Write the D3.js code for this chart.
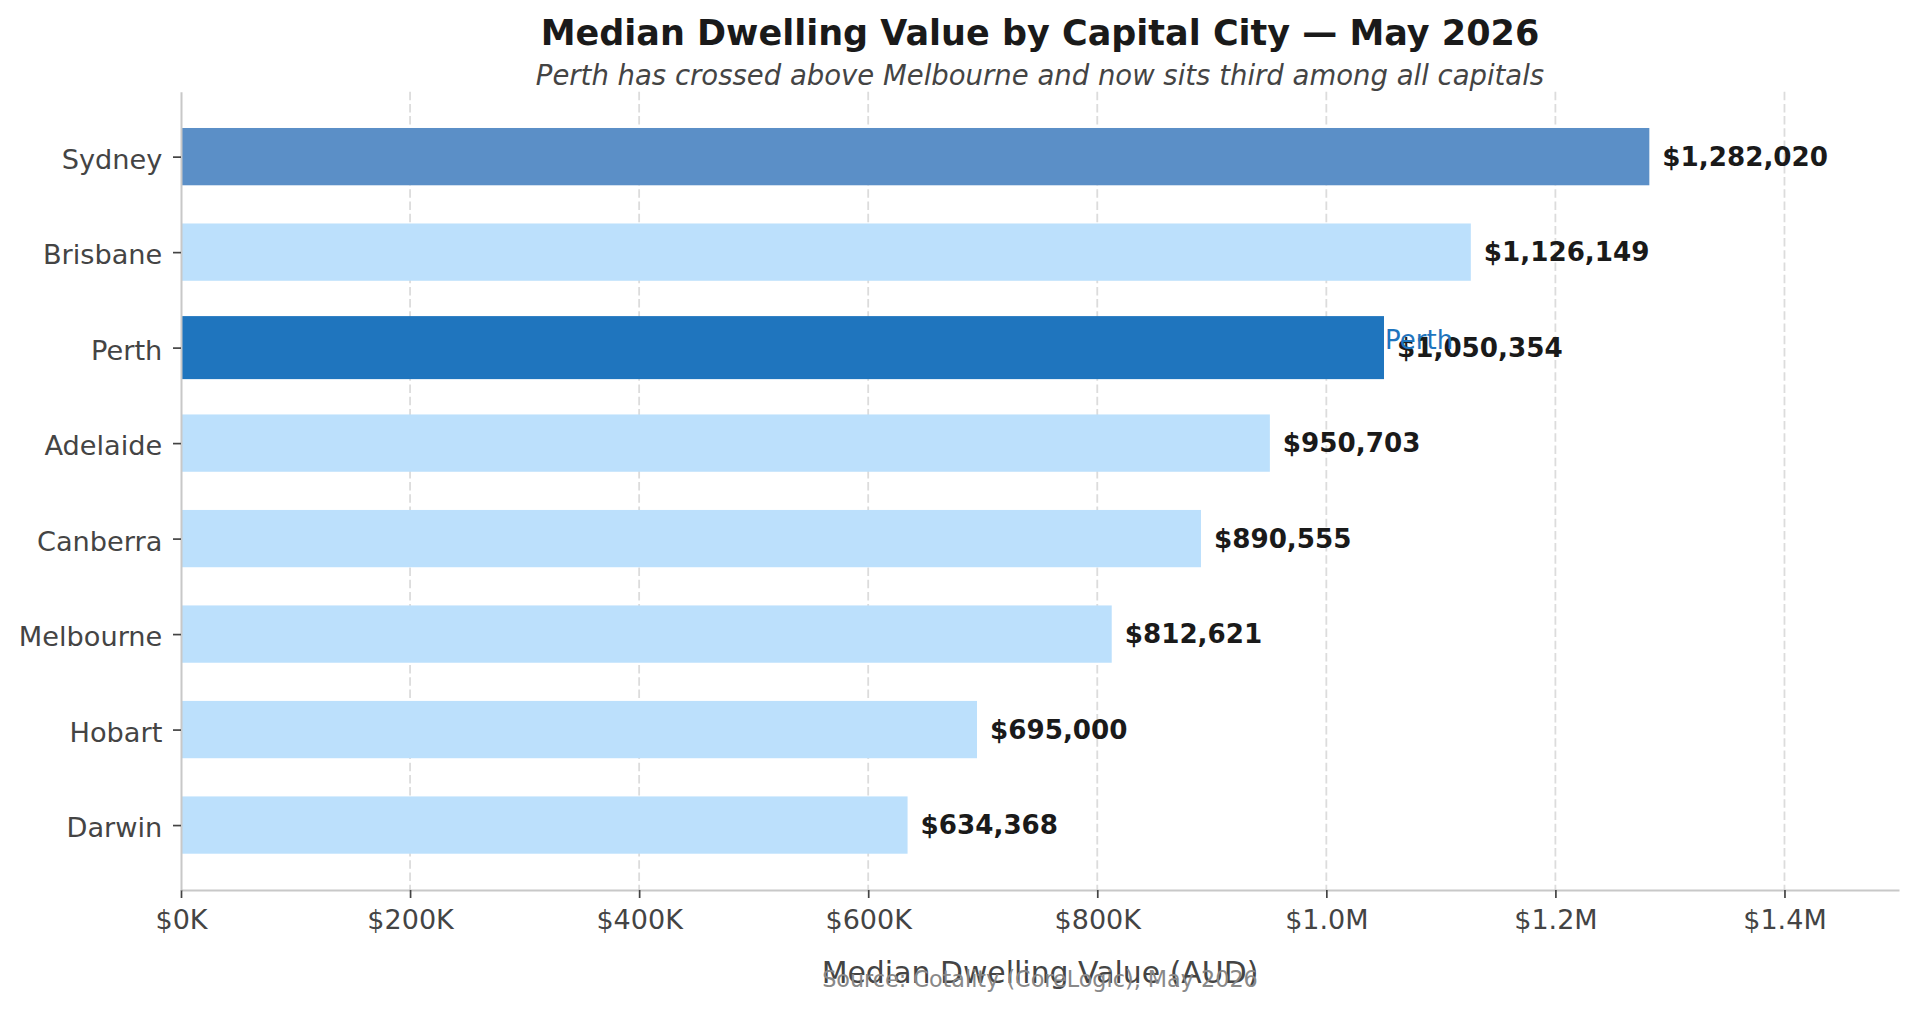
<!DOCTYPE html>
<html>
<head>
<meta charset="utf-8">
<title>Median Dwelling Value by Capital City</title>
<script src="https://cdn.jsdelivr.net/npm/d3@7"></script>
<style>
    html, body { margin: 0; padding: 0; background: #fff; }
    svg { display: block; font-family: "DejaVu Sans", sans-serif; }
</style>
</head>
<body>
<div id="chart"></div>
<script>
// Data (May 2026 medians, AUD)
const cities = ['Sydney', 'Brisbane', 'Perth', 'Adelaide', 'Canberra', 'Melbourne', 'Hobart', 'Darwin'];
const values = [1282020, 1126149, 1050354, 950703, 890555, 812621, 695000, 634368];
const xTickValues = [0, 200000, 400000, 600000, 800000, 1000000, 1200000, 1400000];
const xTickLabels = ['$0K', '$200K', '$400K', '$600K', '$800K', '$1.0M', '$1.2M', '$1.4M'];

(function() {
    'use strict';

    const width = 1916;
    const height = 1009;
    const plot = { left: 181, right: 1899, top: 91.7, bottom: 890 };

    const colors = {
        base: '#bce0fc',
        top: '#5b8fc7',
        focus: '#1f75be',
        text: '#1a1a1a',
        axis: '#444444'
    };

    const barColor = name => {
        if (name === 'Perth') return colors.focus;
        if (name === 'Sydney') return colors.top;
        return colors.base;
    };

    const svg = d3.select('#chart')
        .append('svg')
        .attr('width', width)
        .attr('height', height);

    const x = d3.scaleLinear()
        .domain([0, 1500000])
        .range([plot.left, plot.right]);

    // index scale, matplotlib style limits
    const y = d3.scaleLinear()
        .domain([-0.68, cities.length - 1 + 0.68])
        .range([plot.top, plot.bottom]);

    const step = y(1) - y(0);

    // Gridlines behind bars
    svg.append('g')
        .selectAll('line')
        .data(xTickValues.slice(1))
        .enter()
        .append('line')
        .attr('x1', d => x(d))
        .attr('x2', d => x(d))
        .attr('y1', plot.top)
        .attr('y2', plot.bottom)
        .attr('stroke', '#dcdcdc')
        .attr('stroke-width', 1.8)
        .attr('stroke-dasharray', '8.5,3.7');

    // Bars
    const rows = cities.map((c, i) => ({ city: c, value: values[i], i: i }));

    svg.append('g')
        .selectAll('rect')
        .data(rows)
        .enter()
        .append('rect')
        .attr('x', x(0))
        .attr('y', d => y(d.i) - step * (d.city === 'Perth' ? 0.33 : 0.3))
        .attr('width', d => x(d.value) - x(0))
        .attr('height', d => step * (d.city === 'Perth' ? 0.66 : 0.6))
        .attr('fill', d => barColor(d.city));

    // Axes
    const xAxis = d3.axisBottom(x)
        .tickValues(xTickValues)
        .tickFormat((d, i) => xTickLabels[i])
        .tickSize(8)
        .tickSizeOuter(0)
        .tickPadding(12.3);

    const yAxis = d3.axisLeft(y)
        .tickValues(d3.range(cities.length))
        .tickFormat(i => cities[i])
        .tickSize(8)
        .tickSizeOuter(0)
        .tickPadding(10.7);

    const gx = svg.append('g')
        .attr('transform', `translate(0,${plot.bottom})`)
        .call(xAxis);

    const gy = svg.append('g')
        .attr('transform', `translate(${plot.left},0)`)
        .call(yAxis);

    [gx, gy].forEach(g => {
        g.select('.domain').attr('stroke', '#c8c8c8').attr('stroke-width', 2);
        g.selectAll('.tick line').attr('stroke', colors.axis).attr('stroke-width', 1.7);
        g.selectAll('.tick text')
            .attr('fill', colors.axis)
            .style('font-family', '"DejaVu Sans", sans-serif');
    });
    gx.selectAll('.tick text').style('font-size', '27px');
    gy.selectAll('.tick text').style('font-size', '27.2px').attr('dy', '0.42em');

    // Value labels
    svg.append('g')
        .selectAll('text')
        .data(rows)
        .enter()
        .append('text')
        .attr('x', d => x(d.value) + 13)
        .attr('y', d => y(d.i))
        .attr('dominant-baseline', 'central')
        .attr('fill', colors.text)
        .style('font-size', '26.2px')
        .style('font-weight', 'bold')
        .text(d => '$' + d3.format(',')(d.value));

    // Perth annotation
    const perthIdx = cities.indexOf('Perth');
    svg.append('text')
        .attr('x', x(values[perthIdx]) + 1)
        .attr('y', y(perthIdx) + 1)
        .attr('fill', colors.focus)
        .style('font-size', '26px')
        .text('Perth');

    // Titles
    const cx = (plot.left + plot.right) / 2;

    svg.append('text')
        .attr('x', cx)
        .attr('y', 45)
        .attr('text-anchor', 'middle')
        .attr('fill', colors.text)
        .style('font-size', '35px')
        .style('font-weight', 'bold')
        .text('Median Dwelling Value by Capital City \u2014 May 2026');

    svg.append('text')
        .attr('x', cx)
        .attr('y', 84.5)
        .attr('text-anchor', 'middle')
        .attr('fill', '#444')
        .style('font-size', '27.5px')
        .style('font-style', 'italic')
        .text('Perth has crossed above Melbourne and now sits third among all capitals');

    svg.append('text')
        .attr('x', cx)
        .attr('y', 983)
        .attr('text-anchor', 'middle')
        .attr('fill', colors.axis)
        .style('font-size', '29.9px')
        .text('Median Dwelling Value (AUD)');

    svg.append('text')
        .attr('x', cx)
        .attr('y', 987)
        .attr('text-anchor', 'middle')
        .attr('fill', '#888')
        .style('font-size', '22.3px')
        .text('Source: Cotality (CoreLogic), May 2026');
})();
</script>
</body>
</html>
